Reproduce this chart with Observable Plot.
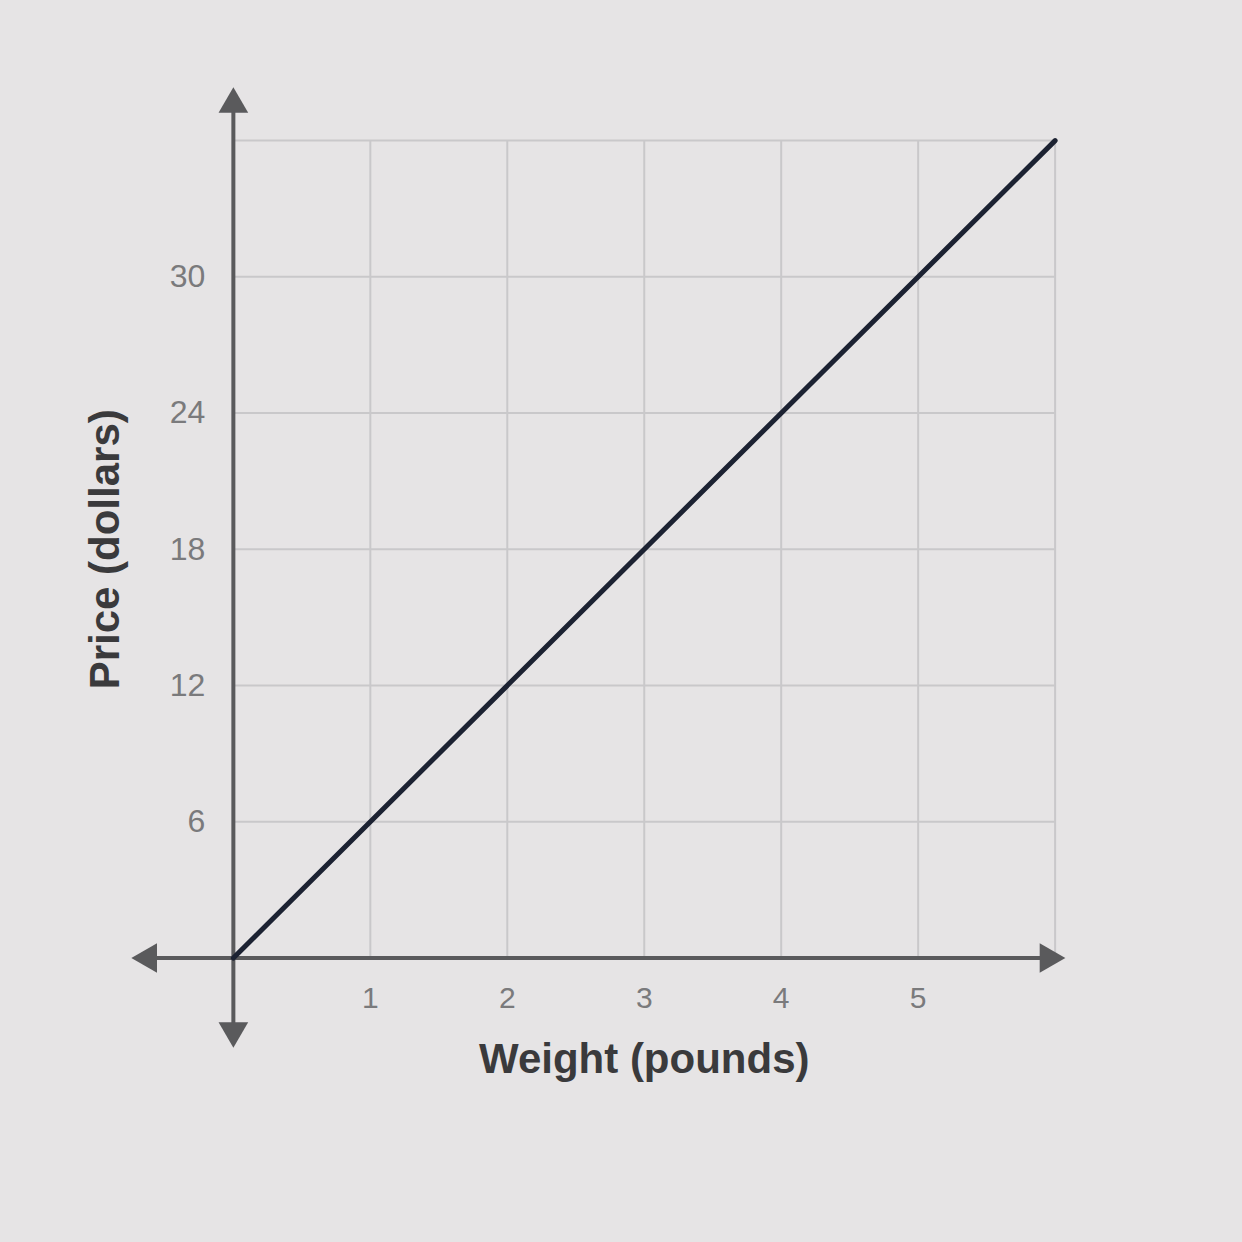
<!DOCTYPE html>
<html><head><meta charset="utf-8">
<script src="https://cdn.jsdelivr.net/npm/d3@7"></script>
<script src="https://cdn.jsdelivr.net/npm/@observablehq/plot@0.6"></script>
<style>
html,body{margin:0;padding:0;background:#e6e4e5;}
#chart svg{display:block;}
</style>
</head><body><div id="chart"></div>
<script>
const weights = [0, 6];
const prices = [0, 36];
const xTicks = [1, 2, 3, 4, 5];
const yTicks = [6, 12, 18, 24, 30];
const xGrid = [1, 2, 3, 4, 5, 6];
const yGrid = [6, 12, 18, 24, 30, 36];
const xLabel = "Weight (pounds)";
const yLabel = "Price (dollars)";

const lineData = weights.map((w, i) => ({w, p: prices[i]}));
const axisColor = "#5a5a5c";
const heads = [
  {x: 5.95, y: 0, r: 90},
  {x: -0.62, y: 0, r: -90},
  {x: 0, y: 37.6, r: 0},
  {x: 0, y: -3.2, r: 180}
];

const chart = Plot.plot({
  width: 1242, height: 1242,
  marginLeft: 137, marginRight: 160, marginTop: 72, marginBottom: 205,
  x: {domain: [-0.7, 6.2], axis: null},
  y: {domain: [-3.5, 39], axis: null},
  style: {background: "#e6e4e5", fontFamily: "Liberation Sans, Arial, sans-serif"},
  marks: [
    Plot.ruleX(xGrid, {x: d => d, y1: 0, y2: 36, stroke: "#c9c8ca", strokeWidth: 2}),
    Plot.ruleY(yGrid, {y: d => d, x1: 0, x2: 6, stroke: "#c9c8ca", strokeWidth: 2}),
    Plot.ruleY([0], {x1: -0.6, x2: 5.95, stroke: axisColor, strokeWidth: 4}),
    Plot.ruleX([0], {y1: -3.2, y2: 37.6, stroke: axisColor, strokeWidth: 4}),
    Plot.dot(heads, {x: "x", y: "y", rotate: "r", symbol: "triangle", r: 11, fill: axisColor, stroke: "none"}),
    Plot.line(lineData, {x: "w", y: "p", stroke: "#1c2232", strokeWidth: 5}),
    Plot.text(xTicks, {x: d => d, y: 0, dy: 40, text: d => String(d), fill: "#7a7a7c", fontSize: 30}),
    Plot.text(yTicks, {x: 0, y: d => d, dx: -28, textAnchor: "end", text: d => String(d), fill: "#7a7a7c", fontSize: 32}),
    Plot.text([xLabel], {x: 3, y: 0, dy: 102, text: d => d, fill: "#3a3a3c", fontSize: 42, fontWeight: "bold"}),
    Plot.text([yLabel], {x: 0, y: 18, dx: -128, rotate: -90, text: d => d, fill: "#3a3a3c", fontSize: 42, fontWeight: "bold"})
  ]
});
document.getElementById("chart").append(chart);
</script>
</body></html>
